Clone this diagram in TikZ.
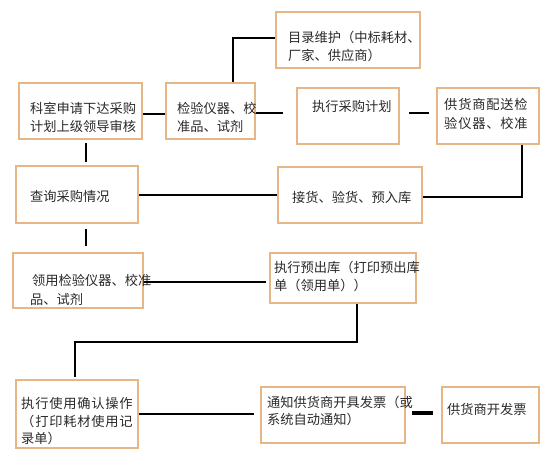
\documentclass[tikz,border=0pt]{standalone}
\usepackage{fontspec}
\setmainfont{Noto Sans CJK SC}
\usetikzlibrary{fit}
\definecolor{boxline}{HTML}{E6B687}
\definecolor{txt}{HTML}{2A2A2A}
\tikzset{
  box/.style={draw=boxline, line width=2pt, fill=white, inner sep=0pt},
  txtline/.style={anchor=west, inner sep=0pt, text=txt, font=\fontsize{11.3}{15}\selectfont},
  wide/.style={font=\fontsize{11.3}{15}\selectfont\addfontfeature{LetterSpace=6}},
  link/.style={line width=2.3pt, black}
}
\begin{document}
\begin{tikzpicture}[x=0.03cm, y=-0.03cm]
        \useasboundingbox (0,0) rectangle (560,452);

        % Boxes, first row
        \node[box, fit={(19,83) (142,139)}] (apply) {};
        \node[box, fit={(166,83) (255,139)}] (goods) {};
        \node[box, fit={(276,12) (420,68)}] (catalog) {};
        \node[box, fit={(297,88) (399,144)}] (execplan) {};
        \node[box, fit={(437,88) (539,144)}] (deliver) {};

        % Boxes, second row
        \node[box, fit={(16,166) (138,223)}] (query) {};
        \node[box, fit={(278,167) (422,223)}] (receive) {};

        % Boxes, third row
        \node[box, fit={(13,253) (143,308)}] (take) {};
        \node[box, fit={(270,253) (416,303)}] (preout) {};

        % Boxes, last row
        \node[box, fit={(16,380) (138,448)}] (confirm) {};
        \node[box, fit={(261,387) (405,443)}] (notify) {};
        \node[box, fit={(442,387) (539,443)}] (invoice) {};

        % Texts
        \node[txtline] (apply1) at (30,108) {科室申请下达采购};
        \node[txtline] (apply2) at (30,126) {计划上级领导审核};
        \node[txtline] (goods1) at (177,108) {检验仪器、校};
        \node[txtline] (goods2) at (177,126) {准品、试剂};
        \node[txtline] (catalog1) at (288,37) {目录维护（中标耗材、};
        \node[txtline] (catalog2) at (288,55) {厂家、供应商）};
        \node[txtline] (execplan1) at (312,106) {执行采购计划};
        \node[txtline, wide] (deliver1) at (444,104) {供货商配送检};
        \node[txtline, wide] (deliver2) at (444,123) {验仪器、校准};
        \node[txtline] (query1) at (30,196) {查询采购情况};
        \node[txtline] (receive1) at (292,197) {接货、验货、预入库};
        \node[txtline] (take1) at (32,280) {领用检验仪器、校准};
        \node[txtline] (take2) at (30,299) {品、试剂};
        \node[txtline] (preout1) at (274,267) {执行预出库（打印预出库};
        \node[txtline] (preout2) at (274,285) {单（领用单））};
        \node[txtline, wide] (confirm1) at (21,403) {执行使用确认操作};
        \node[txtline, wide] (confirm2) at (21,421) {（打印耗材使用记};
        \node[txtline] (confirm3) at (21,438) {录单）};
        \node[txtline] (notify1) at (267,402) {通知供货商开具发票（或};
        \node[txtline] (notify2) at (267,419) {系统自动通知）};
        \node[txtline] (invoice1) at (447,409) {供货商开发票};

        % Connectors
        \draw[link] (apply.east |- 0,114) -- (goods.west |- 0,114);
        \draw[link] (goods.north -| 233,0) |- (catalog.west |- 0,38);
        \draw[link, shorten >=0.39cm] (goods.east |- 0,113) -- (execplan.west |- 0,113);
        \draw[link, shorten <=0.27cm, shorten >=0.21cm] (execplan.east |- 0,113) -- (deliver.west |- 0,113);
        \draw[link] (deliver.south -| 522,0) |- (receive.east |- 0,197);
        \draw[link] (query.east |- 0,195) -- (receive.west |- 0,195);
        \draw[link, shorten <=0.09cm, shorten >=0.09cm] (apply.south -| 86,0) -- (query.north -| 86,0);
        \draw[link, shorten <=0.15cm, shorten >=0.18cm] (query.south -| 86,0) -- (take.north -| 86,0);
        \draw[link, shorten >=0.09cm] (take.east |- 0,282) -- (preout.west |- 0,282);
        \coordinate (bend) at (75,342);
        \draw[link, shorten >=0.06cm] (preout.south -| 357,0) |- (bend) -- (confirm.north -| bend);
        \draw[link, shorten >=0.18cm] (confirm.east |- 0,414) -- (notify.west |- 0,414);
        \draw[link, line width=3.2pt, shorten <=0.18cm, shorten >=0.24cm] (notify.east |- 0,413) -- (invoice.west |- 0,413);
\end{tikzpicture}
\end{document}
